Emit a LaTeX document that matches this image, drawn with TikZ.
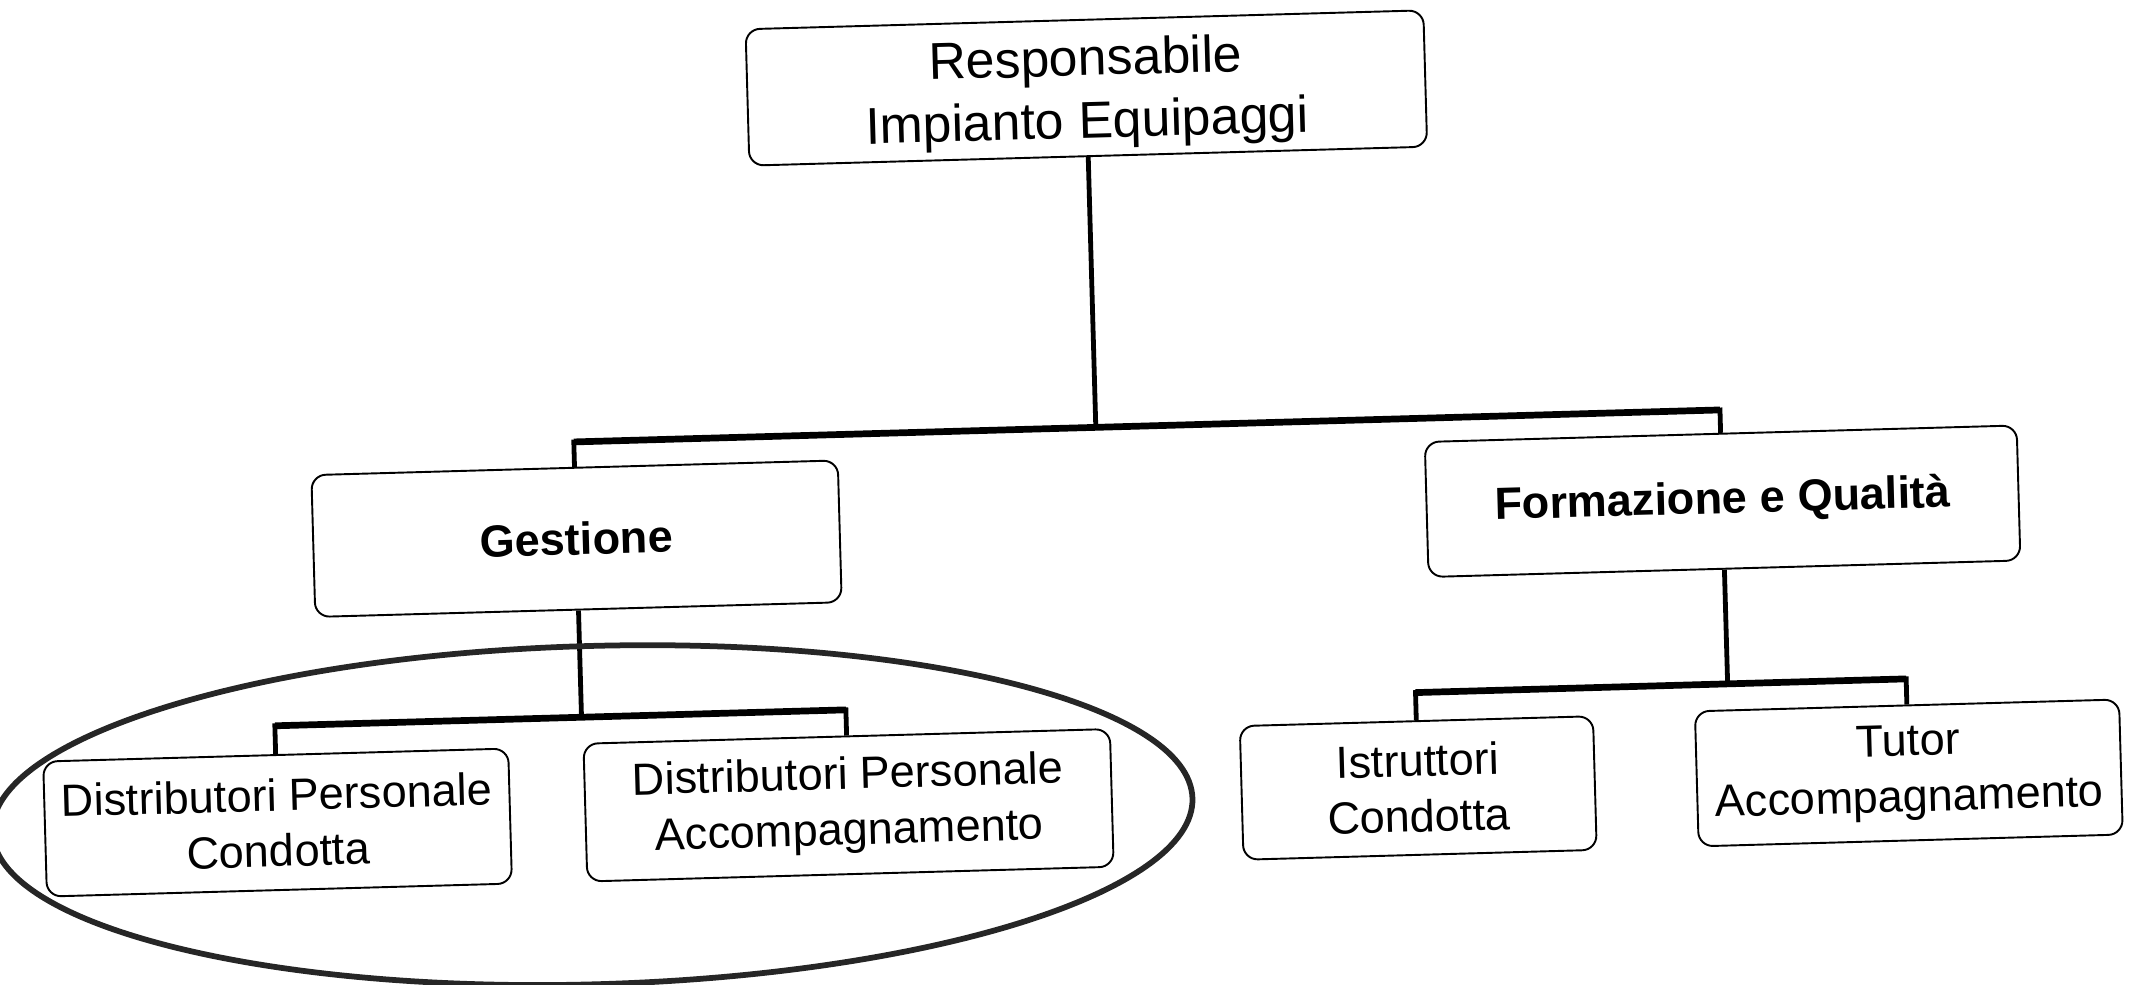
\documentclass[tikz,border=0pt]{standalone}
\usepackage{fontspec}
\setmainfont{Liberation Sans}
\begin{document}
\begin{tikzpicture}[x=0.01cm,y=0.01cm,
    box/.style={draw,rounded corners=3pt,line width=0.4pt,inner sep=0pt,align=center,
        minimum height=1cm,font=\fontsize{9.4}{11.6}\selectfont},
    boldbox/.style={box,font=\fontsize{9.4}{11.6}\selectfont\bfseries},
    stem/.style={line width=1pt},
    bar/.style={line width=1.4pt},
    ring/.style={line width=1.2pt,draw=black!85}]
    \useasboundingbox (0,0) rectangle (1568,722);
    \begin{scope}[rotate around={1.6:(784,361)},transform shape]
    \node[box,minimum width=4.97cm,text depth=0pt,font=\fontsize{10.8}{13}\selectfont] (resp) at (805,657) {Responsabile\\Impianto Equipaggi};
    \node[boldbox,minimum width=3.86cm,minimum height=1.04cm] (ges) at (422,337) {Gestione};
    \node[boldbox,minimum width=4.34cm,minimum height=0.99cm] (form) at (1263,341) {Formazione e Qualità};
    \node[box,minimum width=3.41cm,minimum height=0.99cm] (dpc) at (197,135) {Distributori Personale\\Condotta};
    \node[box,minimum width=3.86cm,minimum height=1.01cm] (dpa) at (616,136) {Distributori Personale\\Accompagnamento};
    \node[box,minimum width=2.59cm,minimum height=0.98cm] (istr) at (1034,137) {Istruttori\\Condotta};
    \node[box,minimum width=3.11cm,minimum height=0.99cm] (tutor) at (1394,138) {Tutor\\Accompagnamento};
    \coordinate (r0) at (805,408);
    \coordinate (g0) at (422,408);
    \coordinate (f0) at (1263,408);
    \coordinate (g1) at (422,206);
    \coordinate (c1) at (197,206);
    \coordinate (c2) at (616,206);
    \coordinate (f1) at (1263,207);
    \coordinate (c3) at (1034,207);
    \coordinate (c4) at (1394,207);
    \draw [stem] (resp) -- (r0);
    \draw [stem] (ges) -- (g0) -- (f0) -- (form);
    \draw [bar] (g0) -- (f0);
    \draw [stem] (ges) -- (g1);
    \draw [stem] (dpc) -- (c1) -- (c2) -- (dpa);
    \draw [bar] (c1) -- (c2);
    \draw [stem] (form) -- (f1);
    \draw [stem] (istr) -- (c3) -- (c4) -- (tutor);
    \draw [bar] (c3) -- (c4);
    \draw [ring] (428,134) ellipse [x radius=4.40cm,y radius=1.24cm];
    \end{scope}
\end{tikzpicture}
\end{document}
